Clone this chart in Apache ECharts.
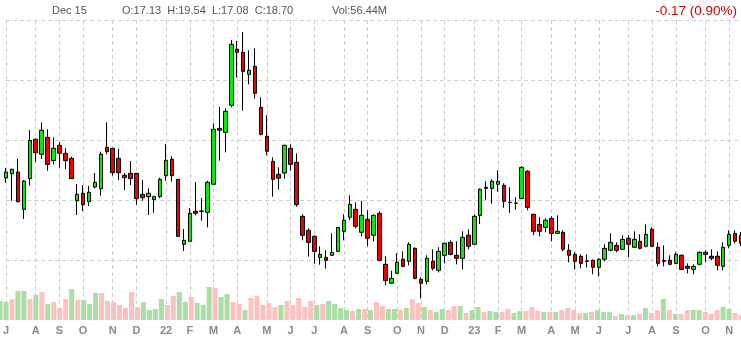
<!DOCTYPE html>
<html><head><meta charset="utf-8">
<script src="https://cdn.jsdelivr.net/npm/echarts@6/dist/echarts.min.js"></script>
<style>html,body{margin:0;padding:0;background:#fff;overflow:hidden}#c{width:741px;height:340px}</style>
</head><body><div id="c"></div>
<script>
// Weekly candles, first week ending 2021-07-02
const startDate = '2021-07-02';
const weekCount = 125;

const opens = [16.83,17.19,17.33,14.22,16.78,20.06,18.81,20.22,18.28,19.56,18.89,18.47,14.94,15.56,14.86,16.08,15.94,19.39,19.31,18.47,17.06,17.22,17.22,15.47,15.28,15.03,
15.28,17.03,18.39,16.72,11.31,11.56,14.06,14.06,13.97,16.31,20.97,20.64,22.89,27.56,27.31,25.47,26.14,22.72,20.31,18.22,17.14,17.25,19.31,18.14,
13.64,12.47,11.97,10.22,10.22,10.39,10.72,12.39,13.56,14.22,12.31,13.39,12.06,13.89,9.64,8.06,8.89,10.06,9.89,10.97,8.39,8.22,9.89,9.14,
10.39,11.47,10.39,10.14,12.06,11.31,13.72,16.06,15.97,16.31,16.22,14.81,14.72,15.11,17.39,13.81,12.97,12.72,13.47,12.22,12.31,10.81,10.47,10.31,9.88,
9.97,9.39,10.06,10.81,11.22,10.89,11.81,11.06,11.56,11.14,12.56,11.06,9.89,9.97,9.72,10.39,9.47,9.22,9.64,10.64,10.31,10.31,9.47,11.22,12.22,12.06];

const closes = [17.33,17.56,14.86,16.58,19.97,18.94,20.81,17.97,19.31,18.89,18.28,16.78,15.47,14.61,15.64,16.47,18.81,19.03,17.28,17.28,16.86,16.78,15.11,15.19,15.56,15.28,
16.72,18.31,17.03,11.97,11.64,13.89,13.89,14.08,16.47,20.89,20.81,22.39,27.97,27.31,25.72,25.81,23.89,20.47,19.06,16.72,16.81,19.56,17.97,14.61,
12.06,11.47,10.72,10.47,9.97,10.64,12.72,13.31,14.64,12.81,13.72,11.81,13.72,9.97,8.28,8.47,9.81,9.47,11.31,8.47,8.06,10.14,9.31,10.72,
11.39,10.47,10.14,11.89,11.14,13.64,15.89,15.97,16.56,16.56,14.89,14.78,14.75,17.72,14.39,12.39,12.39,13.31,12.22,12.39,10.89,10.39,9.89,9.72,9.92,
9.39,10.06,10.97,11.47,10.81,11.72,11.31,11.72,10.97,12.14,11.14,9.72,9.97,9.64,10.47,9.22,9.31,9.47,10.64,10.47,10.14,9.56,11.06,12.14,11.56,11.39];

const lows = [16.42,14.94,14.8,13.42,16.19,18.19,18.42,17.44,17.97,17.69,17.58,16.75,13.75,14.08,14.5,15.97,15.36,18.81,17.03,16.67,15.83,16.25,14.61,14.94,13.75,13.94,
15.14,16.61,16.53,11.95,10.75,11.55,13.72,13.28,12.72,16.3,18.28,18.97,22.72,25.22,22.44,24.64,23.44,20.39,18.72,15.28,15.86,16.78,17.44,14.44,
11.64,10.28,9.69,9.61,9.28,10.38,10.7,11.64,13.31,12.64,11.97,11.14,11.56,9.89,7.89,8.05,8.88,9.39,9.56,8.39,6.78,7.97,9.14,8.97,
9.72,10.39,9.64,9.22,10.89,11.3,13.0,15.03,14.69,15.69,14.36,13.94,14.19,15.1,14.14,12.06,11.97,12.31,11.56,12.2,10.72,9.81,9.22,9.31,9.39,
8.81,8.64,9.89,10.72,10.64,10.88,10.22,11.05,10.89,11.06,11.13,9.47,9.47,9.56,9.64,9.2,8.89,8.81,9.56,9.81,9.97,9.14,9.14,10.97,11.39,11.17];

const highs = [17.67,17.6,18.42,16.67,20.83,20.14,21.47,20.89,20.22,19.81,19.31,18.61,16.33,16.25,16.17,17.25,19.03,21.47,19.35,19.25,17.25,18.25,17.25,16.67,15.97,15.36,
16.86,19.67,18.64,16.75,12.58,14.33,16.5,15.17,16.61,21.39,22.75,22.64,28.33,28.25,29.0,27.47,27.64,23.56,22.06,18.56,17.72,19.6,19.64,18.89,
13.81,12.64,12.06,11.14,10.81,12.22,12.75,13.81,15.39,14.81,14.92,14.14,13.81,14.06,10.31,9.11,10.56,10.72,11.47,11.06,8.56,10.39,10.89,11.06,
11.47,11.64,11.56,12.39,12.56,13.81,15.97,16.56,16.72,17.47,16.39,16.06,15.22,17.81,17.47,13.83,13.56,13.47,13.64,13.72,12.47,11.31,10.64,10.47,10.47,
10.06,10.14,11.31,12.22,11.47,12.06,12.06,12.39,12.14,12.97,12.72,11.47,11.22,10.39,10.64,10.47,9.72,9.64,10.72,10.81,10.89,10.72,11.47,12.47,12.47,12.33];

// weekly volume, millions
const volumes = [38,36,42,58,58,42,50,56,32,36,24,42,62,40,40,32,54,54,38,36,30,24,56,26,36,20,
22,42,30,48,56,36,46,34,30,66,64,46,52,36,32,20,44,48,30,34,26,30,38,30,
44,26,38,30,32,38,32,24,20,18,22,22,20,36,28,22,22,20,24,42,34,26,20,16,
22,20,28,28,14,20,26,16,18,16,16,22,14,18,18,26,18,16,16,16,20,24,20,14,14,
16,20,16,16,8,12,10,10,12,24,14,20,42,20,12,12,20,20,20,16,12,20,26,22,14,10];

const tickLabels = ['J','A','S','O','N','D','22','F','M','A','M','J','J','A','S','O','N','D','23','F','M','A','M','J','J','A','S','O','N'];

const header = { date: 'Dec 15', ohlc: 'O:17.13  H:19.54  L:17.08  C:18.70', vol: 'Vol:56.44M', change: '-0.17 (0.90%)' };

// categories: week-ending dates
const dates = [];
const labelFor = {};
(function () {
  const d0 = new Date(startDate + 'T00:00:00Z');
  let li = 0;
  for (let i = 0; i < weekCount; i++) {
    const d = new Date(d0.getTime() + i * 7 * 86400000);
    const s = d.toISOString().slice(0, 10);
    dates.push(s);
    if (d.getUTCDate() <= 7 && li < tickLabels.length) { labelFor[s] = tickLabels[li++]; }
  }
})();

const ohlc = opens.map((o, i) => [o, closes[i], lows[i], highs[i]]);
const volData = volumes.map((v, i) => ({
  value: v,
  itemStyle: { color: closes[i] >= opens[i] ? '#aadea4' : '#ffc0c0' }
}));

const chart = echarts.init(document.getElementById('c'), null, { renderer: 'canvas' });
const isTick = (idx, val) => labelFor[val] !== undefined;

chart.setOption({
  animation: false,
  backgroundColor: '#fff',
  grid: [
    { left: -1.7, right: -1.3, top: 20, bottom: 20 },
    { left: -1.7, right: -1.3, top: 280, bottom: 20 }
  ],
  xAxis: [
    {
      type: 'category', gridIndex: 0, data: dates, boundaryGap: false,
      axisLine: { show: false }, axisTick: { show: false },
      axisLabel: {
        interval: isTick, formatter: v => labelFor[v] || '',
        color: '#8a8a8a', fontSize: 11, fontWeight: 'bold', fontFamily: 'Liberation Sans, Arial, sans-serif', margin: 5
      },
      splitLine: { show: true, interval: isTick, lineStyle: { color: '#cfcfcf', type: [4, 3], width: 1 } }
    },
    {
      type: 'category', gridIndex: 1, data: dates, boundaryGap: false,
      axisLine: { show: false }, axisTick: { show: false }, axisLabel: { show: false }, splitLine: { show: false }
    }
  ],
  yAxis: [
    {
      type: 'value', gridIndex: 0, min: 5, max: 30, interval: 5,
      axisLine: { show: false }, axisTick: { show: false }, axisLabel: { show: false },
      splitLine: { show: true, showMinLine: false, lineStyle: { color: '#cfcfcf', type: [4, 3], width: 1 } }
    },
    {
      type: 'value', gridIndex: 1, min: 0, max: 80,
      axisLine: { show: false }, axisTick: { show: false }, axisLabel: { show: false }, splitLine: { show: false }
    }
  ],
  graphic: [
    { type: 'text', x: 52, y: 11, silent: true, style: { text: header.date, fill: '#555', font: '11px "Liberation Sans", Arial, sans-serif', verticalAlign: 'middle' } },
    { type: 'text', x: 122, y: 11, silent: true, style: { text: header.ohlc, fill: '#555', font: '11px "Liberation Sans", Arial, sans-serif', verticalAlign: 'middle' } },
    { type: 'text', x: 332, y: 11, silent: true, style: { text: header.vol, fill: '#555', font: '11px "Liberation Sans", Arial, sans-serif', verticalAlign: 'middle' } },
    { type: 'text', x: 737, y: 11, silent: true, style: { text: header.change, fill: '#d40000', font: '13.5px "Liberation Sans", Arial, sans-serif', align: 'right', verticalAlign: 'middle' } }
  ],
  series: [
    {
      type: 'bar', xAxisIndex: 1, yAxisIndex: 1, data: volData, barWidth: 5, silent: true, z: 1
    },
    {
      type: 'candlestick', xAxisIndex: 0, yAxisIndex: 0, data: ohlc, barWidth: 4, clip: false, silent: true, z: 3,
      itemStyle: {
        color: '#00ee00', color0: '#ee0000',
        borderColor: '#000', borderColor0: '#000', borderColorDoji: '#000', borderWidth: 1
      }
    }
  ]
});
</script>
</body></html>
